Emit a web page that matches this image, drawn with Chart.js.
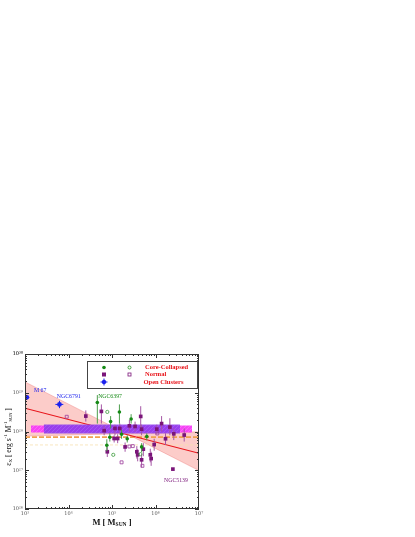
<!DOCTYPE html>
<html>
<head>
<meta charset="utf-8">
<script src="https://cdn.jsdelivr.net/npm/chart.js@4.4.0/dist/chart.umd.min.js"></script>
<style>
  html, body { margin: 0; padding: 0; background: #fff; }
  #c { position: absolute; left: 0; top: 0; }
</style>
</head>
<body>
<canvas id="c" width="415" height="537"></canvas>
<script>
// axis ticks
var xTickLabels = ['10³', '10⁴', '10⁵', '10⁶', '10⁷'];
var yTickLabels = ['10²⁶', '10²⁷', '10²⁸', '10²⁹', '10³⁰'];

// core-collapsed (filled)
var ccMass = [4.6e4, 1.48e5, 9.3e4, 2.75e5, 8.9e4, 7.6e4, 1.66e5, 2.24e5, 4.8e5, 6.3e5];
var ccEps  = [5.6e28, 3.2e28, 1.8e28, 2.1e28, 7.1e27, 4.4e27, 8.5e27, 6.5e27, 4.0e27, 7.4e27];
var ccHi   = [8.7e28, 5.0e28, 2.5e28, 2.8e28, 9.0e27, 6.3e27, 1.1e28, 8.0e27, 5.0e27, 9.0e27];
var ccLo   = [1.6e28, 1.6e28, 1.2e28, 1.6e28, 5.5e27, 3.1e27, 6.5e27, 5.2e27, 2.9e27, 5.9e27];

// core-collapsed (open)
var ccOpenMass = [7.8e4, 1.07e5, 4.5e5];
var ccOpenEps  = [3.2e28, 2.5e27, 2.6e27];

// normal (filled)
var nMass = [2.5e4, 5.7e4, 4.57e5, 1.38e6, 1.17e5, 1.51e5, 3.39e5, 4.79e5, 1.07e6, 2.14e6,
             2.63e6, 1.70e6, 9.33e5, 5.25e5, 3.72e5, 3.89e5, 4.79e5, 7.59e5, 7.94e5, 1.35e5,
             1.12e5, 7.8e4, 2.0e5, 4.57e6, 2.51e6, 2.51e5, 6.6e4];
var nEps  = [2.5e28, 3.3e28, 2.45e28, 1.6e28, 1.2e28, 1.2e28, 1.35e28, 1.15e28, 1.15e28, 1.3e28,
             8.7e27, 6.5e27, 4.6e27, 3.5e27, 3.0e27, 2.5e27, 1.86e27, 2.5e27, 2.0e27, 6.6e27,
             6.6e27, 3.0e27, 4.0e27, 8.1e27, 1.07e27, 1.4e28, 1.05e28];
var nHi   = [3.5e28, 5.0e28, 4.5e28, 2.5e28, 1.5e28, 1.6e28, 1.8e28, 1.5e28, 1.5e28, 2.2e28,
             1.2e28, 9.0e27, 6.5e27, 5.0e27, 4.2e27, 3.5e27, 2.6e27, 3.6e27, 3.0e27, 8.5e27,
             8.0e27, 4.0e27, 5.2e27, 1.2e28, null, 2.0e28, 1.4e28];
var nLo   = [1.8e28, 1.6e28, 1.26e28, 1.0e28, 8.0e27, 9.0e27, 1.0e28, 8.0e27, 8.5e27, 8.0e27,
             6.0e27, 4.5e27, 3.2e27, 2.3e27, 2.0e27, 1.7e27, 1.2e27, 1.6e27, 1.3e27, 5.0e27,
             5.2e27, 2.2e27, 3.0e27, 5.5e27, null, 1.0e28, 8.0e27];

// normal (open)
var nOpenMass = [9.1e3, 2.51e5, 1.66e5, 5.0e5, 3.0e5, 1.1e6];
var nOpenEps  = [2.4e28, 4.1e27, 1.6e27, 1.3e27, 4.2e27, 8.9e27];

// open clusters
var ocMass   = [1.1e3, 6.2e3];
var ocEps    = [7.6e28, 5.0e28];
var ocHi     = [8.8e28, 6.2e28];
var ocLo     = [6.6e28, 4.0e28];
var ocMassLo = [1.0e3, 5.0e3];
var ocMassHi = [1.25e3, 7.6e3];

// fit and its slope range
var fitMass    = [1e3, 1e7];
var fitEps     = [4.0e28, 2.75e27];
var wedgeMass  = [1e3, 2.15e5, 1e7];
var wedgeUpper = [1.9e29, 8.8e27, 9.8e27];
var wedgeLower = [7.6e27, 8.8e27, 9.8e26];

// mean emissivity bands
var magentaMass = [1.37e3, 6.9e6];
var magentaTop = 1.43e28, magentaBot = 9.4e27;
var purpleMass = [2.7e3, 3.66e6];
var purpleTop = 1.51e28, purpleBot = 8.9e27;
var orangeEps = 7.2e27;
var paleEps = 4.5e27;

function pts(xs, ys) {
    return xs.map(function(x, i) { return {x: x, y: ys[i]}; });
}
function flat(xs, y) {
    return xs.map(function(x) { return {x: x, y: y}; });
}

var ctx = document.getElementById('c').getContext('2d');

function hatch(base, line) {
    var c = document.createElement('canvas');
    c.width = 4; c.height = 4;
    var g = c.getContext('2d');
    g.fillStyle = base; g.fillRect(0, 0, 4, 4);
    g.strokeStyle = line; g.lineWidth = 0.6;
    g.beginPath(); g.moveTo(0, 4); g.lineTo(4, 0); g.stroke();
    return ctx.createPattern(c, 'repeat');
}

var GREEN = '#168a16', PURPLE = '#7a1579', BLUE = '#1c22ee', RED = '#e8141a';

// error bars drawn just before each point set
var errorBars = {
    id: 'errorBars',
    beforeDatasetDraw: function(chart, args) {
        var ds = chart.data.datasets[args.index];
        if (!ds.errLo && !ds.errXLo) return;
        var x = chart.scales.x, y = chart.scales.y, c = chart.ctx;
        c.save();
        c.strokeStyle = ds.errColor;
        c.lineWidth = 1;
        ds.data.forEach(function(p, i) {
            var px = x.getPixelForValue(p.x), py = y.getPixelForValue(p.y);
            c.beginPath();
            if (ds.errLo && ds.errLo[i] != null) {
                c.moveTo(px, y.getPixelForValue(ds.errHi[i]));
                c.lineTo(px, y.getPixelForValue(ds.errLo[i]));
            }
            if (ds.errXLo) {
                c.moveTo(x.getPixelForValue(ds.errXLo[i]), py);
                c.lineTo(x.getPixelForValue(ds.errXHi[i]), py);
            }
            c.stroke();
        });
        c.restore();
    }
};

// frame, inward ticks, titles, legend, labels
var decor = {
    id: 'decor',
    afterDraw: function(chart) {
        var c = chart.ctx, a = chart.chartArea;
        var xs = chart.scales.x, ys = chart.scales.y;
        c.save();
        c.strokeStyle = '#333';
        c.lineWidth = 1;
        c.strokeRect(a.left + 0.5, a.top + 0.5, a.right - a.left - 1, a.bottom - a.top - 1);
        c.beginPath();
        var d, k, p, len;
        for (d = 3; d < 7; d++) {
            for (k = 1; k <= 9; k++) {
                p = Math.round(xs.getPixelForValue(k * Math.pow(10, d))) + 0.5;
                len = k === 1 ? 4 : 2;
                c.moveTo(p, a.bottom); c.lineTo(p, a.bottom - len);
                c.moveTo(p, a.top); c.lineTo(p, a.top + len);
            }
        }
        for (d = 26; d < 30; d++) {
            for (k = 1; k <= 9; k++) {
                p = Math.round(ys.getPixelForValue(k * Math.pow(10, d))) + 0.5;
                len = k === 1 ? 4 : 2;
                c.moveTo(a.left, p); c.lineTo(a.left + len, p);
                c.moveTo(a.right, p); c.lineTo(a.right - len, p);
            }
        }
        c.stroke();

        // axis titles
        function rich(parts, cx, cy, bold) {
            var w = 0;
            parts.forEach(function(s) {
                c.font = (bold ? 'bold ' : '') + s[1] + "px 'Liberation Serif'";
                s.w = c.measureText(s[0]).width; w += s.w;
            });
            var xx = cx - w / 2;
            c.textBaseline = 'middle';
            c.textAlign = 'left';
            parts.forEach(function(s) {
                c.font = (bold ? 'bold ' : '') + s[1] + "px 'Liberation Serif'";
                c.fillText(s[0], xx, cy + (s[2] || 0));
                xx += s.w;
            });
        }
        c.fillStyle = '#111';
        rich([['M [ M', 8.5], ['SUN', 5.5, 2], [' ]', 8.5]], (a.left + a.right) / 2, 523, true);
        c.save();
        c.translate(9, 437);
        c.rotate(-Math.PI / 2);
        rich([['ε', 8], ['X', 5, 2], [' [ erg s', 7.5], ['-1', 5, -3], [' M', 7.5], ['-1', 5, -3],
              ['SUN', 4.5, 2], [' ]', 7.5]], 0, 0, false);
        c.restore();

        // legend box
        c.strokeStyle = '#444';
        c.lineWidth = 1;
        c.fillStyle = '#fff';
        c.fillRect(87, 361, 110, 28);
        c.strokeRect(87.5, 361.5, 110, 27);
        var rows = [367.5, 374.5, 382];
        c.fillStyle = GREEN;
        c.beginPath(); c.arc(104, rows[0], 1.8, 0, Math.PI * 2); c.fill();
        c.strokeStyle = GREEN; c.lineWidth = 0.8;
        c.beginPath(); c.arc(129.5, rows[0], 1.5, 0, Math.PI * 2); c.stroke();
        c.fillStyle = PURPLE;
        c.fillRect(102, rows[1] - 2, 4, 4);
        c.strokeStyle = PURPLE;
        c.strokeRect(128, rows[1] - 1.5, 3, 3);
        c.fillStyle = BLUE; c.strokeStyle = BLUE; c.lineWidth = 1;
        c.beginPath(); c.arc(104, rows[2], 2.2, 0, Math.PI * 2); c.fill();
        c.beginPath();
        c.moveTo(104, rows[2] - 3.5); c.lineTo(104, rows[2] + 3.5);
        c.moveTo(100.5, rows[2]); c.lineTo(107.5, rows[2]);
        c.stroke();
        c.fillStyle = RED;
        c.textAlign = 'left'; c.textBaseline = 'middle';
        c.font = "bold 6.5px 'Liberation Serif'";
        c.fillText('Core-Collapsed', 145, rows[0]);
        c.fillText('Normal', 145, rows[1]);
        c.fillText('Open Clusters', 143.5, rows[2]);

        // cluster names
        c.font = "5.8px 'Liberation Serif'";
        [['M 67', 1.61e3, 1.17e29, BLUE], ['NGC6791', 5.4e3, 8.2e28, BLUE],
         ['NGC6397', 4.8e4, 7.8e28, GREEN], ['NGC5139', 1.57e6, 5.6e26, PURPLE]].forEach(function(l) {
            c.fillStyle = l[3];
            c.fillText(l[0], xs.getPixelForValue(l[1]), ys.getPixelForValue(l[2]));
        });
        c.restore();
    }
};

new Chart(ctx, {
    type: 'scatter',
    data: {
        datasets: [
            {label: 'oc', data: pts(ocMass, ocEps), pointStyle: 'circle', pointRadius: 2.4,
             backgroundColor: BLUE, borderColor: BLUE, borderWidth: 0, order: 1,
             errLo: ocLo, errHi: ocHi, errXLo: ocMassLo, errXHi: ocMassHi, errColor: BLUE},
            {label: 'cc', data: pts(ccMass, ccEps), pointStyle: 'circle', pointRadius: 1.8,
             backgroundColor: GREEN, borderColor: GREEN, borderWidth: 0, order: 2,
             errLo: ccLo, errHi: ccHi, errColor: '#4c9e4c'},
            {label: 'ccOpen', data: pts(ccOpenMass, ccOpenEps), pointStyle: 'circle', pointRadius: 1.6,
             backgroundColor: 'rgba(0,0,0,0)', borderColor: '#3a9a3a', borderWidth: 0.8, order: 3},
            {label: 'normal', data: pts(nMass, nEps), pointStyle: 'rect', pointRadius: 2.6,
             backgroundColor: PURPLE, borderColor: PURPLE, borderWidth: 0, order: 4,
             errLo: nLo, errHi: nHi, errColor: '#a556a5'},
            {label: 'nOpen', data: pts(nOpenMass, nOpenEps), pointStyle: 'rect', pointRadius: 2.1,
             backgroundColor: 'rgba(0,0,0,0)', borderColor: '#9a3a9a', borderWidth: 0.8, order: 5},

            {type: 'line', label: 'purpleTop', data: flat(purpleMass, purpleTop), order: 10,
             borderWidth: 0, pointRadius: 0, fill: false},
            {type: 'line', label: 'purpleBot', data: flat(purpleMass, purpleBot), order: 10,
             borderWidth: 0, pointRadius: 0, fill: '-1',
             backgroundColor: hatch('rgba(140,62,236,0.88)', 'rgba(170,105,248,0.9)')},
            {type: 'line', label: 'magentaTop', data: flat(magentaMass, magentaTop), order: 11,
             borderWidth: 0, pointRadius: 0, fill: false},
            {type: 'line', label: 'magentaBot', data: flat(magentaMass, magentaBot), order: 11,
             borderWidth: 0, pointRadius: 0, fill: '-1',
             backgroundColor: hatch('rgba(245,60,245,0.95)', 'rgba(255,130,255,0.9)')},
            {type: 'line', label: 'fit', data: pts(fitMass, fitEps), order: 12,
             borderColor: RED, borderWidth: 1.1, pointRadius: 0, fill: false},
            {type: 'line', label: 'orange', data: flat([1e3, 1e7], orangeEps), order: 13,
             borderColor: '#f0a050', borderWidth: 1.8, borderDash: [5, 2], pointRadius: 0, fill: false},
            {type: 'line', label: 'pale', data: flat([1e3, 1e7], paleEps), order: 13,
             borderColor: '#f6e0b0', borderWidth: 0.8, borderDash: [3, 2], pointRadius: 0, fill: false},
            {type: 'line', label: 'wedgeUp', data: pts(wedgeMass, wedgeUpper), order: 14,
             borderColor: 'rgba(235,100,100,0.6)', borderWidth: 0.6, pointRadius: 0, fill: false},
            {type: 'line', label: 'wedgeLow', data: pts(wedgeMass, wedgeLower), order: 14,
             borderColor: 'rgba(235,100,100,0.6)', borderWidth: 0.6, pointRadius: 0, fill: '-1',
             backgroundColor: 'rgba(250,170,165,0.6)'}
        ]
    },
    options: {
        responsive: false,
        animation: false,
        devicePixelRatio: 1,
        layout: {padding: {top: 354, right: 216, left: 0, bottom: 0}},
        plugins: {legend: {display: false}, tooltip: {enabled: false}},
        scales: {
            x: {
                type: 'logarithmic', min: 1e3, max: 1e7,
                afterFit: function(s) { s.height = 28; },
                grid: {display: false, drawTicks: false},
                border: {display: false},
                ticks: {
                    autoSkip: false, maxRotation: 0, padding: 2, color: '#555',
                    font: {size: 5, family: "'DejaVu Serif'"},
                    callback: function(v) {
                        var e = Math.log10(v), r = Math.round(e);
                        return Math.abs(e - r) < 1e-6 ? xTickLabels[r - 3] : '';
                    }
                }
            },
            y: {
                type: 'logarithmic', min: 1e26, max: 1e30,
                afterFit: function(s) { s.width = 25; },
                grid: {display: false, drawTicks: false},
                border: {display: false},
                ticks: {
                    autoSkip: false, padding: 2, color: '#555',
                    font: {size: 5, family: "'DejaVu Serif'"},
                    callback: function(v) {
                        var e = Math.log10(v), r = Math.round(e);
                        return Math.abs(e - r) < 1e-6 ? yTickLabels[r - 26] : '';
                    }
                }
            }
        }
    },
    plugins: [errorBars, decor]
});
</script>
</body>
</html>
